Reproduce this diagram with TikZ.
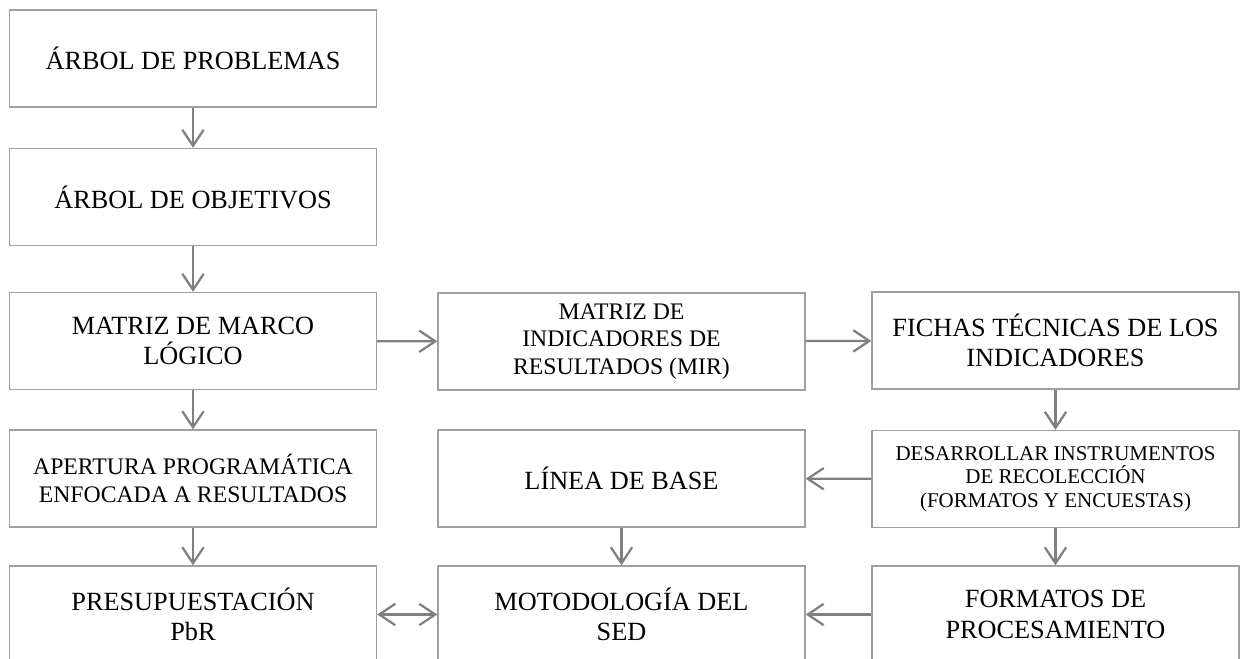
\documentclass[tikz,border=0pt]{standalone}
\usepackage{fontspec}
\setmainfont{Liberation Serif}
\usetikzlibrary{arrows.meta}
\definecolor{boxline}{RGB}{160,160,160}
\definecolor{arrowline}{RGB}{128,128,128}
\tikzset{
  stepbox/.style={draw=boxline, line width=1pt, rectangle, inner sep=0pt,
    minimum width=275.25pt, minimum height=72.75pt, align=center,
    font=\fontsize{19.7}{22.7}\selectfont},
  midtext/.style={font=\fontsize{17.8}{20.8}\selectfont},
  smalltext/.style={font=\fontsize{15.75}{17.6}\selectfont},
  conn/.style={draw=arrowline, line width=1.7pt,
    -{Straight Barb[length=12pt,width=16pt,line width=1.7pt]}},
  conn2/.style={draw=arrowline, line width=1.7pt,
    {Straight Barb[length=12pt,width=16pt,line width=1.7pt]}-{Straight Barb[length=12pt,width=16pt,line width=1.7pt]}}
}
\begin{document}
\begin{tikzpicture}[x=0.75pt, y=-0.75pt]
\clip (0,0) rectangle (1241,659);
\fill[white] (0,0) rectangle (1241,659);

\node[stepbox] (p1) at (193,58.5) {ÁRBOL DE PROBLEMAS};
\node[stepbox] (p2) at (193,197) {ÁRBOL DE OBJETIVOS};
\node[stepbox] (p3) at (193,341) {MATRIZ DE MARCO\\LÓGICO};
\node[stepbox, midtext] (mir) at (621.5,341.5) {MATRIZ DE\\INDICADORES DE\\RESULTADOS (MIR)};
\node[stepbox] (fichas) at (1055.5,340.5) {FICHAS TÉCNICAS DE LOS\\INDICADORES};
\node[stepbox, midtext] (aper) at (193,478.5) {APERTURA PROGRAMÁTICA\\ENFOCADA A RESULTADOS};
\node[stepbox] (linea) at (621.5,478.5) {LÍNEA DE BASE};
\node[stepbox, smalltext] (desa) at (1055.5,479) {DESARROLLAR INSTRUMENTOS\\DE RECOLECCIÓN\\(FORMATOS Y ENCUESTAS)};
\node[stepbox] (pres) at (193,614.5) {PRESUPUESTACIÓN\\PbR};
\node[stepbox] (moto) at (621.5,614.5) {MOTODOLOGÍA DEL\\SED};
\node[stepbox] (form) at (1055.5,614.5) {FORMATOS DE\\PROCESAMIENTO};

\draw[conn] (p1) -- (p2);
\draw[conn] (p2) -- (p3);
\draw[conn] (p3) -- (aper);
\draw[conn] (aper) -- (pres);
\draw[conn] (p3) -- (mir);
\draw[conn] (mir) -- (fichas);
\draw[conn] (fichas) -- (desa);
\draw[conn] (desa) -- (form);
\draw[conn] (desa) -- (linea);
\draw[conn] (linea) -- (moto);
\draw[conn] (form) -- (moto);
\draw[conn2] (pres) -- (moto);
\end{tikzpicture}
\end{document}
